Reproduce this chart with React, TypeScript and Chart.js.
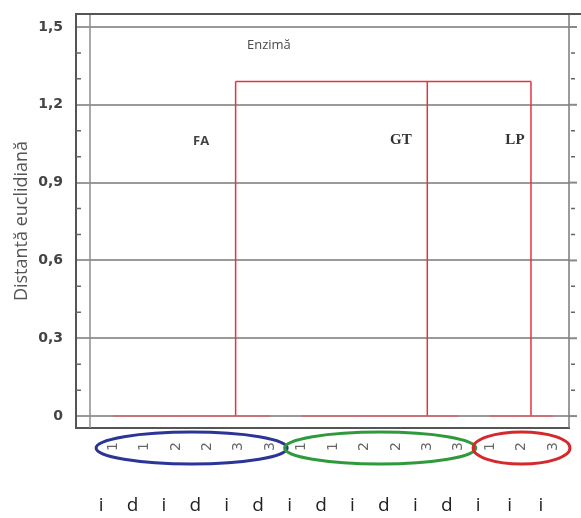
import React, { useEffect, useRef } from 'react';
import { Chart, registerables } from 'chart.js';

Chart.register(...registerables);

// Leaves (samples) along the x axis
const leafLabels = ['1', '1', '2', '2', '3', '3', '1', '1', '2', '2', '3', '3', '1', '2', '3'];
const leafSubLabels = ['i', 'd', 'i', 'd', 'i', 'd', 'i', 'd', 'i', 'd', 'i', 'd', 'i', 'i', 'i'];

// Y axis ticks (Euclidean distance)
const yTicks = [0, 0.3, 0.6, 0.9, 1.2, 1.5];
const yMinorTicks = [0.1, 0.2, 0.4, 0.5, 0.7, 0.8, 1.0, 1.1, 1.3, 1.4];

// Dendrogram clusters
const clusterNames = ['FA', 'GT', 'LP'];
const clusterFirstLeaf = [1, 7, 13];
const clusterLastLeaf = [6, 12, 15];
const clusterJoinX = [4.9, 11, 14.3];
const clusterHeight = [0, 0, 0];
const mergeHeight = 1.29;

const groupColors = ['#2a3596', '#2f9a3c', '#d42a2e'];

const X_MIN = -0.18;
const X_MAX = 15.51;

export default function App() {
  const ref = useRef<HTMLCanvasElement>(null);

  useEffect(() => {
    if (!ref.current) return;
    const red = 'rgb(226,52,66)';
    const redFaint = 'rgba(232,90,100,0.6)';
    const datasets: any[] = [];
    clusterNames.forEach((name, i) => {
      datasets.push({
        label: name + ' base',
        data: [
          { x: clusterFirstLeaf[i], y: clusterHeight[i] },
          { x: clusterLastLeaf[i], y: clusterHeight[i] },
        ],
        borderColor: redFaint,
        borderWidth: 2,
        pointRadius: 0,
      });
      datasets.push({
        label: name,
        data: [
          { x: clusterJoinX[i], y: clusterHeight[i] },
          { x: clusterJoinX[i], y: mergeHeight },
        ],
        borderColor: red,
        borderWidth: 1.5,
        pointRadius: 0,
      });
    });
    datasets.push({
      label: 'merge',
      data: [
        { x: clusterJoinX[0], y: mergeHeight },
        { x: clusterJoinX[clusterJoinX.length - 1], y: mergeHeight },
      ],
      borderColor: red,
      borderWidth: 1.5,
      pointRadius: 0,
    });

    const leafTicks = (s: any) => {
      s.ticks = leafLabels.map((_, i) => ({ value: i + 1 }));
    };
    const fitX = (h: number) => (s: any) => {
      s.height = h;
      s.paddingLeft = 0;
      s.paddingRight = 0;
    };

    const decor = {
      id: 'decor',
      beforeDatasetsDraw(chart: any) {
        const { ctx, chartArea: a } = chart;
        const y = chart.scales.y;
        ctx.save();
        // inner vertical line
        ctx.strokeStyle = '#8c8c8c';
        ctx.lineWidth = 1.5;
        ctx.beginPath();
        ctx.moveTo(a.left + 14, a.top);
        ctx.lineTo(a.left + 14, a.bottom);
        ctx.stroke();
        // right border
        ctx.strokeStyle = '#7a7a7a';
        ctx.beginPath();
        ctx.moveTo(a.right, a.top);
        ctx.lineTo(a.right, a.bottom);
        ctx.stroke();
        // top border
        ctx.strokeStyle = '#555';
        ctx.lineWidth = 2;
        ctx.beginPath();
        ctx.moveTo(a.left, a.top);
        ctx.lineTo(chart.width, a.top);
        ctx.stroke();
        // minor ticks
        ctx.strokeStyle = '#666';
        ctx.lineWidth = 1.5;
        yMinorTicks.forEach((v) => {
          const py = y.getPixelForValue(v);
          ctx.beginPath();
          ctx.moveTo(a.left, py);
          ctx.lineTo(a.left + 5, py);
          ctx.moveTo(a.right + 2, py);
          ctx.lineTo(a.right + 6, py);
          ctx.stroke();
        });
        ctx.strokeStyle = '#888';
        ctx.lineWidth = 2;
        yTicks.forEach((v) => {
          const py = y.getPixelForValue(v);
          ctx.beginPath();
          ctx.moveTo(a.right, py);
          ctx.lineTo(a.right + 8, py);
          ctx.stroke();
        });
        ctx.restore();
      },
      afterDatasetsDraw(chart: any) {
        const { ctx } = chart;
        const x = chart.scales.x;
        const y = chart.scales.y;
        ctx.save();
        ctx.textBaseline = 'middle';
        ctx.textAlign = 'left';
        ctx.fillStyle = '#4a4a4a';
        ctx.font = '13px "Open Sans"';
        ctx.fillText('Enzimă', x.getPixelForValue(5.26), y.getPixelForValue(1.43));
        ctx.textAlign = 'center';
        ctx.font = 'bold 13px "Open Sans"';
        ctx.fillStyle = '#444';
        ctx.fillText(clusterNames[0], x.getPixelForValue(3.8), y.getPixelForValue(1.06));
        ctx.font = 'bold 15px "Liberation Serif"';
        ctx.fillStyle = '#333';
        ctx.fillText(clusterNames[1], x.getPixelForValue(10.16), y.getPixelForValue(1.065));
        ctx.fillText(clusterNames[2], x.getPixelForValue(13.79), y.getPixelForValue(1.065));
        ctx.restore();
      },
      afterDraw(chart: any) {
        const { ctx } = chart;
        const x = chart.scales.x;
        const cy = chart.chartArea.bottom + 20;
        ctx.save();
        ctx.lineWidth = 3;
        clusterNames.forEach((_, i) => {
          const x1 = x.getPixelForValue(clusterFirstLeaf[i]);
          const x2 = x.getPixelForValue(clusterLastLeaf[i]);
          ctx.strokeStyle = groupColors[i];
          ctx.beginPath();
          ctx.ellipse((x1 + x2) / 2, cy, (x2 - x1) / 2 + 17, 16, 0, 0, Math.PI * 2);
          ctx.stroke();
        });
        ctx.restore();
      },
    };

    const chart = new Chart(ref.current, {
      type: 'line',
      data: { datasets },
      options: {
        animation: false,
        responsive: true,
        maintainAspectRatio: false,
        parsing: false as any,
        layout: { padding: { top: 14, right: 12, left: 0, bottom: 0 } },
        plugins: { legend: { display: false }, tooltip: { enabled: false } },
        scales: {
          x: {
            type: 'linear',
            position: 'bottom',
            weight: 0,
            min: X_MIN,
            max: X_MAX,
            afterBuildTicks: leafTicks,
            afterFit: fitX(30),
            ticks: {
              autoSkip: false,
              minRotation: 90,
              maxRotation: 90,
              padding: 14,
              color: '#666',
              font: { family: 'DejaVu Sans', size: 14 },
              callback: (v: any) => leafLabels[Math.round(v) - 1] ?? '',
            },
            grid: { display: false, drawTicks: false },
            border: { display: true, color: '#555', width: 2 },
          },
          x2: {
            type: 'linear',
            position: 'bottom',
            weight: 1,
            min: X_MIN,
            max: X_MAX,
            afterBuildTicks: leafTicks,
            afterFit: fitX(60),
            ticks: {
              autoSkip: false,
              minRotation: 0,
              maxRotation: 0,
              padding: 36,
              labelOffset: -12,
              color: '#222',
              font: { family: 'Open Sans', size: 19 },
              callback: (v: any) => leafSubLabels[Math.round(v) - 1] ?? '',
            },
            grid: { display: false, drawTicks: false },
            border: { display: false },
          },
          y: {
            type: 'linear',
            min: -0.046,
            max: 1.55,
            afterBuildTicks: (s: any) => { s.ticks = yTicks.map((v) => ({ value: v })); },
            afterFit: (s: any) => {
              s.width = 76;
              s.paddingTop = 0;
              s.paddingBottom = 0;
            },
            ticks: {
              padding: 13,
              color: '#444',
              font: { family: 'DejaVu Sans', size: 14, weight: 'bold' },
              callback: (v: any) => (v === 0 ? '0' : Number(v).toFixed(1).replace('.', ',')),
            },
            grid: { color: '#9a9a9a', lineWidth: 2, drawTicks: false },
            border: { color: '#555', width: 2 },
            title: {
              display: true,
              text: 'Distantă euclidiană',
              color: '#555',
              font: { family: 'Open Sans', size: 18 },
              padding: { top: 11, bottom: 0 },
            },
          },
        },
      },
      plugins: [decor],
    });
    return () => chart.destroy();
  }, []);

  return (
    <div style={{ position: 'absolute', left: 0, top: 0, width: 581, height: 518, background: '#fff' }}>
      <canvas ref={ref} />
    </div>
  );
}
